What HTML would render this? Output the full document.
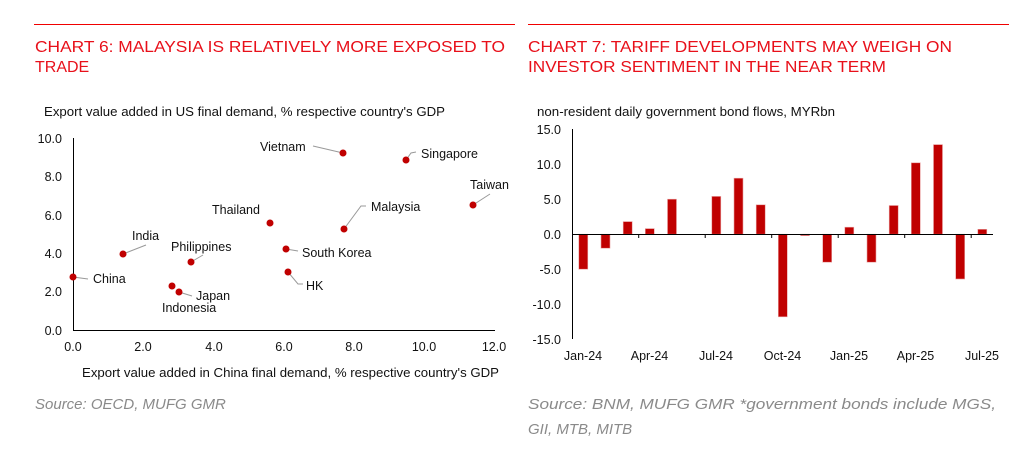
<!DOCTYPE html>
<html><head><meta charset="utf-8"><style>
html,body{margin:0;padding:0;background:#fff;}
svg{display:block;font-family:"Liberation Sans",Arial,sans-serif;}
</style></head><body>
<svg width="1032" height="473" viewBox="0 0 1032 473" xmlns="http://www.w3.org/2000/svg">
<!-- Chart 6 -->
<line x1="34" y1="24.5" x2="515" y2="24.5" stroke="#f00000" stroke-width="1"/>
<text x="35" y="52" font-size="16" fill="#e8101a" textLength="470" lengthAdjust="spacingAndGlyphs">CHART 6: MALAYSIA IS RELATIVELY MORE EXPOSED TO</text>
<text x="35" y="72" font-size="16" fill="#e8101a">TRADE</text>
<text x="44" y="116" font-size="12.5" fill="#111" textLength="401" lengthAdjust="spacingAndGlyphs">Export value added in US final demand, % respective country's GDP</text>
<g font-size="12.5" fill="#111" text-anchor="end">
<text x="62" y="143">10.0</text><text x="62" y="181">8.0</text><text x="62" y="220">6.0</text>
<text x="62" y="258">4.0</text><text x="62" y="296">2.0</text><text x="62" y="335">0.0</text>
</g>
<g font-size="12.5" fill="#111" text-anchor="middle">
<text x="73" y="351">0.0</text><text x="143" y="351">2.0</text><text x="214" y="351">4.0</text>
<text x="284" y="351">6.0</text><text x="354" y="351">8.0</text><text x="424" y="351">10.0</text><text x="494" y="351">12.0</text>
</g>
<text x="82" y="377" font-size="12.5" fill="#111" textLength="417" lengthAdjust="spacingAndGlyphs">Export value added in China final demand, % respective country's GDP</text>
<line x1="73.5" y1="138" x2="73.5" y2="330" stroke="#000" stroke-width="1"/>
<line x1="73" y1="330.5" x2="495" y2="330.5" stroke="#000" stroke-width="1"/>
<g stroke="#999" stroke-width="1" fill="none">
<polyline points="313,146 343,153"/>
<polyline points="406,160 411,153 416,152"/>
<polyline points="473,205 490,194"/>
<polyline points="344,229 361,206 366,206"/>
<polyline points="123,254 146,245"/>
<polyline points="191,262 203,255"/>
<polyline points="286,249 298,251"/>
<polyline points="288,272 298,284 303,284"/>
<polyline points="73,277 88,279"/>
<polyline points="179,292 192,296"/>
</g>
<g fill="#c00000">
<circle cx="73" cy="277" r="3.5"/><circle cx="123" cy="254" r="3.5"/><circle cx="191" cy="262" r="3.5"/>
<circle cx="172" cy="286" r="3.5"/><circle cx="179" cy="292" r="3.5"/><circle cx="270" cy="223" r="3.5"/>
<circle cx="286" cy="249" r="3.5"/><circle cx="288" cy="272" r="3.5"/><circle cx="343" cy="153" r="3.5"/>
<circle cx="344" cy="229" r="3.5"/><circle cx="406" cy="160" r="3.5"/><circle cx="473" cy="205" r="3.5"/>
</g>
<g font-size="12.5" fill="#111">
<text x="260" y="151">Vietnam</text><text x="421" y="158">Singapore</text><text x="470" y="189">Taiwan</text>
<text x="371" y="211">Malaysia</text><text x="212" y="214">Thailand</text><text x="132" y="240">India</text>
<text x="171" y="251">Philippines</text><text x="302" y="257">South Korea</text><text x="306" y="290">HK</text>
<text x="93" y="283">China</text><text x="196" y="300">Japan</text><text x="162" y="312">Indonesia</text>
</g>
<text x="35" y="409" font-size="15" font-style="italic" fill="#8a8a8a">Source: OECD, MUFG GMR</text>

<!-- Chart 7 -->
<line x1="528" y1="24.5" x2="1009" y2="24.5" stroke="#f00000" stroke-width="1"/>
<text x="528" y="52" font-size="16" fill="#e8101a" textLength="424" lengthAdjust="spacingAndGlyphs">CHART 7: TARIFF DEVELOPMENTS MAY WEIGH ON</text>
<text x="528" y="72" font-size="16" fill="#e8101a" textLength="358" lengthAdjust="spacingAndGlyphs">INVESTOR SENTIMENT IN THE NEAR TERM</text>
<text x="537" y="116" font-size="12.5" fill="#111" textLength="298" lengthAdjust="spacingAndGlyphs">non-resident daily government bond flows, MYRbn</text>
<g font-size="12.5" fill="#111" text-anchor="end">
<text x="561" y="134">15.0</text><text x="561" y="169">10.0</text><text x="561" y="204">5.0</text>
<text x="561" y="239">0.0</text><text x="561" y="274">-5.0</text><text x="561" y="309">-10.0</text><text x="561" y="344">-15.0</text>
</g>
<g fill="#c00000" stroke="#e8a0a0" stroke-width="0.6">
<rect x="578.8" y="234.2" width="9" height="35"/>
<rect x="601" y="234.2" width="9" height="14"/>
<rect x="623.2" y="221.6" width="9" height="12.6"/>
<rect x="645.3" y="228.6" width="9" height="5.6"/>
<rect x="667.5" y="199.2" width="9" height="35"/>
<rect x="711.8" y="196.4" width="9" height="37.8"/>
<rect x="734" y="178.2" width="9" height="56"/>
<rect x="756.2" y="204.8" width="9" height="29.4"/>
<rect x="778.3" y="234.2" width="9" height="82.6"/>
<rect x="800.5" y="234.2" width="9" height="1.4"/>
<rect x="822.7" y="234.2" width="9" height="28"/>
<rect x="844.8" y="227.2" width="9" height="7"/>
<rect x="867" y="234.2" width="9" height="28"/>
<rect x="889.2" y="205.5" width="9" height="28.7"/>
<rect x="911.3" y="162.8" width="9" height="71.4"/>
<rect x="933.5" y="144.6" width="9" height="89.6"/>
<rect x="955.7" y="234.2" width="9" height="44.8"/>
<rect x="977.8" y="229.3" width="9" height="4.9"/>
</g>
<line x1="572.5" y1="129" x2="572.5" y2="339" stroke="#000" stroke-width="1"/>
<line x1="572" y1="234.5" x2="993" y2="234.5" stroke="#000" stroke-width="1"/>
<g stroke="#000" stroke-width="1">
<line x1="638.7" y1="234" x2="638.7" y2="238"/><line x1="705.2" y1="234" x2="705.2" y2="238"/>
<line x1="771.7" y1="234" x2="771.7" y2="238"/><line x1="838.2" y1="234" x2="838.2" y2="238"/>
<line x1="904.7" y1="234" x2="904.7" y2="238"/><line x1="971.2" y1="234" x2="971.2" y2="238"/>
</g>
<g font-size="12.5" fill="#111" text-anchor="middle">
<text x="583" y="360">Jan-24</text><text x="649.5" y="360">Apr-24</text><text x="716" y="360">Jul-24</text>
<text x="782.5" y="360">Oct-24</text><text x="849" y="360">Jan-25</text><text x="915.5" y="360">Apr-25</text><text x="982" y="360">Jul-25</text>
</g>
<text x="528" y="409" font-size="15" font-style="italic" fill="#8a8a8a" textLength="468" lengthAdjust="spacingAndGlyphs">Source: BNM, MUFG GMR *government bonds include MGS,</text>
<text x="528" y="434" font-size="15" font-style="italic" fill="#8a8a8a">GII, MTB, MITB</text>
</svg>
</body></html>
